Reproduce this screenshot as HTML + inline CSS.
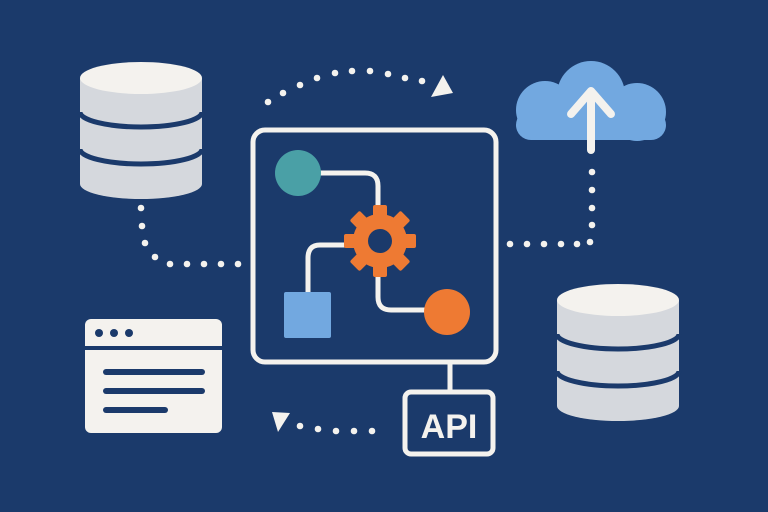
<!DOCTYPE html>
<html><head><meta charset="utf-8"><style>html,body{margin:0;padding:0;background:#1b3a6b}svg{display:block}</style></head><body>
<svg width="768" height="512" viewBox="0 0 768 512" xmlns="http://www.w3.org/2000/svg">
<rect width="768" height="512" fill="#1b3a6b"/>
<!-- DB1 -->
<g>
<path d="M80 78 V184 A61 15 0 0 0 202 184 V78 Z" fill="#d5d8dd"/>
<ellipse cx="141" cy="78" rx="61" ry="16" fill="#f4f2ee"/>
<path d="M80 112 A61 15 0 0 0 202 112" fill="none" stroke="#1b3a6b" stroke-width="5"/>
<path d="M80 149 A61 15 0 0 0 202 149" fill="none" stroke="#1b3a6b" stroke-width="5"/>
</g>
<!-- DB2 -->
<g>
<path d="M557 300 V406 A61 15 0 0 0 679 406 V300 Z" fill="#d5d8dd"/>
<ellipse cx="618" cy="300" rx="61" ry="16" fill="#f4f2ee"/>
<path d="M557 334 A61 15 0 0 0 679 334" fill="none" stroke="#1b3a6b" stroke-width="5"/>
<path d="M557 371 A61 15 0 0 0 679 371" fill="none" stroke="#1b3a6b" stroke-width="5"/>
</g>
<!-- cloud -->
<g fill="#72a8e0">
<circle cx="591" cy="95" r="34"/>
<circle cx="545" cy="110" r="29"/>
<circle cx="637" cy="112" r="29"/>
<rect x="545" y="105" width="92" height="35" rx="4"/>
<rect x="516" y="110" width="150" height="30" rx="15"/>
</g>
<g stroke="#f4f2ee" stroke-width="8" stroke-linecap="round" fill="none">
<line x1="591" y1="150" x2="591" y2="92"/>
<polyline points="571,114 591,91 611,114" stroke-linejoin="round"/>
</g>
<!-- dots -->
<g fill="#f4f2ee">
<circle cx="592" cy="172" r="3.3"/><circle cx="592" cy="190" r="3.3"/><circle cx="592" cy="208" r="3.3"/><circle cx="592" cy="225" r="3.3"/><circle cx="590" cy="242" r="3.3"/>
<circle cx="577" cy="244" r="3.3"/><circle cx="561" cy="244" r="3.3"/><circle cx="544" cy="244" r="3.3"/><circle cx="527" cy="244" r="3.3"/><circle cx="510" cy="244" r="3.3"/>
<circle cx="141" cy="208" r="3.3"/><circle cx="142" cy="226" r="3.3"/><circle cx="145" cy="243" r="3.3"/><circle cx="155" cy="257" r="3.3"/><circle cx="170" cy="264" r="3.3"/><circle cx="187" cy="264" r="3.3"/><circle cx="204" cy="264" r="3.3"/><circle cx="221" cy="264" r="3.3"/><circle cx="238" cy="264" r="3.3"/>
<circle cx="268" cy="102" r="3.3"/><circle cx="283" cy="93" r="3.3"/><circle cx="300" cy="85" r="3.3"/><circle cx="317" cy="78" r="3.3"/><circle cx="335" cy="73" r="3.3"/><circle cx="352" cy="71" r="3.3"/><circle cx="370" cy="71" r="3.3"/><circle cx="388" cy="74" r="3.3"/><circle cx="405" cy="78" r="3.3"/><circle cx="422" cy="81" r="3.3"/>
<polygon points="431,97 443,75 453,93"/>
<circle cx="300" cy="426" r="3.3"/><circle cx="318" cy="429" r="3.3"/><circle cx="336" cy="431" r="3.3"/><circle cx="354" cy="431" r="3.3"/><circle cx="372" cy="431" r="3.3"/>
<polygon points="272,412 290,413 278,432"/>
</g>
<!-- main box -->
<rect x="253" y="130" width="243" height="232" rx="12" fill="none" stroke="#f4f2ee" stroke-width="5"/>
<g fill="none" stroke="#f4f2ee" stroke-width="5">
<path d="M318 173 H365 Q378 173 378 186 V210"/>
<path d="M350 245 H320 Q308 245 308 258 V295"/>
<path d="M378 270 V297 Q378 310 391 310 H430"/>
<line x1="450" y1="364" x2="450" y2="392"/>
</g>
<circle cx="298" cy="173" r="23" fill="#4aa0a6"/>
<rect x="284" y="292" width="47" height="46" rx="2" fill="#72a8e0"/>
<circle cx="447" cy="312" r="23" fill="#ee7a33"/>
<g transform="translate(380,241)" fill="#ee7a33">
<circle r="27"/>
<g>
<rect x="-7" y="-36" width="14" height="14" rx="2"/>
<rect x="-7" y="-36" width="14" height="14" rx="2" transform="rotate(45)"/>
<rect x="-7" y="-36" width="14" height="14" rx="2" transform="rotate(90)"/>
<rect x="-7" y="-36" width="14" height="14" rx="2" transform="rotate(135)"/>
<rect x="-7" y="-36" width="14" height="14" rx="2" transform="rotate(180)"/>
<rect x="-7" y="-36" width="14" height="14" rx="2" transform="rotate(225)"/>
<rect x="-7" y="-36" width="14" height="14" rx="2" transform="rotate(270)"/>
<rect x="-7" y="-36" width="14" height="14" rx="2" transform="rotate(315)"/>
</g>
<circle r="12" fill="#1b3a6b"/>
</g>
<!-- API -->
<rect x="405" y="392" width="88" height="62" rx="6" fill="none" stroke="#f4f2ee" stroke-width="5"/>
<text x="449" y="438" text-anchor="middle" font-family="Liberation Sans, sans-serif" font-size="34" font-weight="bold" fill="#f4f2ee">API</text>
<!-- window -->
<rect x="85" y="319" width="137" height="114" rx="6" fill="#f4f2ee"/>
<line x1="85" y1="348" x2="222" y2="348" stroke="#1b3a6b" stroke-width="4"/>
<g fill="#1b3a6b"><circle cx="99" cy="333" r="4"/><circle cx="114" cy="333" r="4"/><circle cx="129" cy="333" r="4"/></g>
<g stroke="#1b3a6b" stroke-width="6" stroke-linecap="round">
<line x1="106" y1="372" x2="202" y2="372"/><line x1="106" y1="391" x2="202" y2="391"/><line x1="106" y1="410" x2="165" y2="410"/>
</g>
</svg>
</body></html>
